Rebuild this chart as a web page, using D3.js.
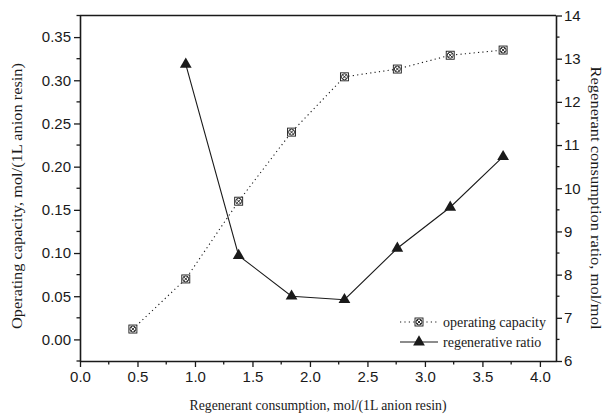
<!DOCTYPE html>
<html>
<head>
<meta charset="utf-8">
<script src="https://cdn.jsdelivr.net/npm/d3@7"></script>
<style>
  html, body { margin: 0; padding: 0; background: #fff; }
  svg { display: block; }
</style>
</head>
<body>
<svg id="chart" width="611" height="419"></svg>
<script>
// Regenerant consumption (mol per litre of anion resin)
const consumption = [0.46, 0.92, 1.38, 1.84, 2.30, 2.76, 3.22, 3.68];
// Operating capacity, mol/(1L anion resin)
const capacity = [0.012, 0.070, 0.160, 0.240, 0.304, 0.313, 0.329, 0.335];
// Regenerant consumption ratio, mol/mol (no value at the first point)
const ratioX = [0.92, 1.38, 1.84, 2.30, 2.76, 3.22, 3.68];
const ratio = [12.87, 8.44, 7.50, 7.42, 8.61, 9.56, 10.73];

const xTicks = [0, 0.5, 1, 1.5, 2, 2.5, 3, 3.5, 4];
const yLeftTicks = [0, 0.05, 0.10, 0.15, 0.20, 0.25, 0.30, 0.35];
const yRightTicks = [6, 7, 8, 9, 10, 11, 12, 13, 14];

const seriesNames = ["operating capacity", "regenerative ratio"];

const svg = d3.select("#chart");
const ink = "#1a1a1a";
const plotL = 80, plotR = 556, plotT = 15.5, plotB = 361;

const x = d3.scaleLinear().domain([0, 4.14]).range([plotL, plotR]);
const yL = d3.scaleLinear().domain([-0.025, 0.375]).range([plotB, plotT]);
const yR = d3.scaleLinear().domain([6, 14]).range([plotB, plotT]);

const tickFont = "'Liberation Sans', Arial, sans-serif";
const titleFont = "'Liberation Serif', 'Times New Roman', serif";

function styleAxis(g) {
  g.selectAll("path.domain").attr("stroke", ink).attr("stroke-width", 1.6);
  g.selectAll(".tick line").attr("stroke", ink).attr("stroke-width", 1.3);
  g.selectAll(".tick text").attr("fill", ink)
    .style("font-family", tickFont).style("font-size", "15px");
}

// minor ticks
const xMinor = d3.range(0.25, 4.14, 0.5);
const yLMinor = d3.range(-0.025, 0.376, 0.05);
const yRMinor = d3.range(6.5, 14, 1);

const minorG = svg.append("g");
minorG.selectAll(".mx").data(xMinor).join("line")
  .attr("x1", d => x(d)).attr("x2", d => x(d))
  .attr("y1", plotB).attr("y2", plotB + 3.5)
  .attr("stroke", ink).attr("stroke-width", 1.3);
minorG.selectAll(".myl").data(yLMinor).join("line")
  .attr("x1", plotL).attr("x2", plotL - 3.5)
  .attr("y1", d => yL(d)).attr("y2", d => yL(d))
  .attr("stroke", ink).attr("stroke-width", 1.3);
minorG.selectAll(".myr").data(yRMinor).join("line")
  .attr("x1", plotR).attr("x2", plotR + 3.5)
  .attr("y1", d => yR(d)).attr("y2", d => yR(d))
  .attr("stroke", ink).attr("stroke-width", 1.3);

// top frame line
svg.append("line")
  .attr("x1", plotL).attr("x2", plotR).attr("y1", plotT).attr("y2", plotT)
  .attr("stroke", ink).attr("stroke-width", 1.6);

const gx = svg.append("g").attr("transform", `translate(0,${plotB})`)
  .call(d3.axisBottom(x).tickValues(xTicks).tickFormat(d3.format(".1f"))
    .tickSize(6).tickSizeOuter(0).tickPadding(4));
styleAxis(gx);

const gyl = svg.append("g").attr("transform", `translate(${plotL},0)`)
  .call(d3.axisLeft(yL).tickValues(yLeftTicks).tickFormat(d3.format(".2f"))
    .tickSize(6).tickSizeOuter(0).tickPadding(3));
styleAxis(gyl);

const gyr = svg.append("g").attr("transform", `translate(${plotR},0)`)
  .call(d3.axisRight(yR).tickValues(yRightTicks).tickFormat(d3.format("d"))
    .tickSize(6).tickSizeOuter(0).tickPadding(2));
styleAxis(gyr);

// axis titles
svg.append("text")
  .attr("x", 318).attr("y", 410)
  .attr("text-anchor", "middle")
  .attr("textLength", 257).attr("lengthAdjust", "spacingAndGlyphs")
  .style("font-family", titleFont).style("font-size", "14px").attr("fill", ink)
  .text("Regenerant consumption, mol/(1L anion resin)");

svg.append("text")
  .attr("transform", "translate(22,196) rotate(-90)")
  .attr("text-anchor", "middle")
  .attr("textLength", 266).attr("lengthAdjust", "spacingAndGlyphs")
  .style("font-family", titleFont).style("font-size", "14px").attr("fill", ink)
  .text("Operating capacity, mol/(1L anion resin)");

svg.append("text")
  .attr("transform", "translate(591,198) rotate(90)")
  .attr("text-anchor", "middle")
  .attr("textLength", 263).attr("lengthAdjust", "spacingAndGlyphs")
  .style("font-family", titleFont).style("font-size", "14px").attr("fill", ink)
  .text("Regenerant consumption ratio, mol/mol");

// series: operating capacity (dotted line, boxed circle-cross marker)
const capPts = consumption.map((c, i) => [c, capacity[i]]);
svg.append("path")
  .datum(capPts)
  .attr("fill", "none").attr("stroke", ink).attr("stroke-width", 1.1)
  .attr("stroke-dasharray", "1.2,3.2")
  .attr("d", d3.line().x(d => x(d[0])).y(d => yL(d[1])));

function capMarker(g) {
  g.append("rect").attr("x", -4).attr("y", -4).attr("width", 8).attr("height", 8)
    .attr("fill", "#fff").attr("stroke", ink).attr("stroke-width", 0.9);
  g.append("circle").attr("r", 3).attr("fill", "none").attr("stroke", ink).attr("stroke-width", 0.9);
  g.append("path").attr("d", "M-2.1,-2.1L2.1,2.1M-2.1,2.1L2.1,-2.1")
    .attr("stroke", ink).attr("stroke-width", 0.9);
}

svg.append("g").selectAll("g").data(capPts).join("g")
  .attr("transform", d => `translate(${x(d[0])},${yL(d[1])})`)
  .each(function () { capMarker(d3.select(this)); });

// series: regenerative ratio (solid line, filled triangles)
const ratioPts = ratioX.map((c, i) => [c, ratio[i]]);
svg.append("path")
  .datum(ratioPts)
  .attr("fill", "none").attr("stroke", ink).attr("stroke-width", 1.1)
  .attr("d", d3.line().x(d => x(d[0])).y(d => yR(d[1])));

const tri = d3.symbol().type(d3.symbolTriangle).size(60);
svg.append("g").selectAll("path").data(ratioPts).join("path")
  .attr("transform", d => `translate(${x(d[0])},${yR(d[1])})`)
  .attr("d", tri).attr("fill", ink);

// legend
const lg = svg.append("g");
const lx0 = 400, lx1 = 438, ly = [322, 342];
lg.append("line").attr("x1", lx0).attr("x2", lx1).attr("y1", ly[0]).attr("y2", ly[0])
  .attr("stroke", ink).attr("stroke-width", 1.1).attr("stroke-dasharray", "1.2,3.2");
capMarker(lg.append("g").attr("transform", `translate(${(lx0 + lx1) / 2},${ly[0]})`));
lg.append("line").attr("x1", lx0).attr("x2", lx1).attr("y1", ly[1]).attr("y2", ly[1])
  .attr("stroke", ink).attr("stroke-width", 1.1);
lg.append("path").attr("transform", `translate(${(lx0 + lx1) / 2},${ly[1]})`)
  .attr("d", tri).attr("fill", ink);
lg.selectAll("text").data(seriesNames).join("text")
  .attr("x", 443).attr("y", (d, i) => ly[i] + 4.5)
  .style("font-family", titleFont).style("font-size", "14px").attr("fill", ink)
  .text(d => d);
</script>
</body>
</html>
